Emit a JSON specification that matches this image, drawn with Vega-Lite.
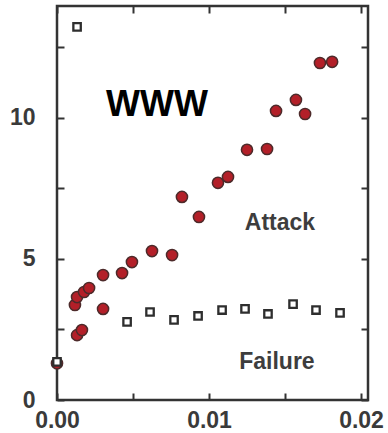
{
  "$schema": "https://vega.github.io/schema/vega-lite/v6.json",
  "width": 311,
  "height": 394,
  "autosize": {"type": "none"},
  "padding": {"left": 57, "top": 6, "right": 20, "bottom": 33},
  "background": "white",
  "config": {
    "view": {"stroke": "#333333", "strokeWidth": 2.5},
    "axis": {
      "domain": false,
      "grid": false,
      "title": null,
      "tickColor": "#333333",
      "tickWidth": 2,
      "tickSize": -7,
      "labelFont": "Liberation Sans",
      "labelFontWeight": "bold",
      "labelFontSize": 23,
      "labelColor": "#3a3a3a"
    }
  },
  "datasets": {
    "attack": [
      {"f": 0.0, "d": 1.3},
      {"f": 0.00132, "d": 2.3},
      {"f": 0.00164, "d": 2.48},
      {"f": 0.00118, "d": 3.37},
      {"f": 0.00132, "d": 3.65},
      {"f": 0.00178, "d": 3.83},
      {"f": 0.00211, "d": 3.97},
      {"f": 0.00303, "d": 3.23},
      {"f": 0.00303, "d": 4.43},
      {"f": 0.00428, "d": 4.5},
      {"f": 0.00493, "d": 4.89},
      {"f": 0.00625, "d": 5.28},
      {"f": 0.00757, "d": 5.14},
      {"f": 0.00822, "d": 7.2},
      {"f": 0.00934, "d": 6.49},
      {"f": 0.01059, "d": 7.7},
      {"f": 0.01125, "d": 7.91},
      {"f": 0.0125, "d": 8.87},
      {"f": 0.01382, "d": 8.9},
      {"f": 0.01441, "d": 10.25},
      {"f": 0.01572, "d": 10.64},
      {"f": 0.01632, "d": 10.14},
      {"f": 0.0173, "d": 11.95},
      {"f": 0.0181, "d": 11.99}
    ],
    "failure": [
      {"f": 0.0, "d": 1.35},
      {"f": 0.00132, "d": 13.23},
      {"f": 0.00461, "d": 2.77},
      {"f": 0.00612, "d": 3.12},
      {"f": 0.0077, "d": 2.84},
      {"f": 0.00928, "d": 2.98},
      {"f": 0.01086, "d": 3.19},
      {"f": 0.01237, "d": 3.23},
      {"f": 0.01388, "d": 3.05},
      {"f": 0.01553, "d": 3.4},
      {"f": 0.01704, "d": 3.19},
      {"f": 0.01862, "d": 3.09}
    ],
    "network": [{"f": 0.00658, "d": 10.46, "text": "WWW"}],
    "curves": [
      {"f": 0.01467, "d": 6.28, "text": "Attack"},
      {"f": 0.01447, "d": 1.35, "text": "Failure"}
    ]
  },
  "layer": [
    {
      "data": {"name": "attack"},
      "mark": {"type": "point", "shape": "circle", "filled": true, "fill": "#b31f28", "stroke": "#4d2a2a", "strokeWidth": 1.5, "size": 125, "opacity": 1},
      "encoding": {
        "x": {
          "field": "f", "type": "quantitative",
          "scale": {"domain": [0, 0.02046], "nice": false, "zero": false},
          "axis": {
            "orient": "bottom",
            "values": [0, 0.005, 0.01, 0.015, 0.02],
            "labelExpr": "abs(datum.value * 100 - round(datum.value * 100)) < 0.001 ? format(datum.value, '.2f') : ''",
            "labelPadding": 16,
            "labelFlush": false,
            "labelOverlap": false
          }
        },
        "y": {
          "field": "d", "type": "quantitative",
          "scale": {"domain": [0, 13.97], "nice": false, "zero": false},
          "axis": {
            "orient": "left",
            "values": [0, 2.5, 5, 7.5, 10, 12.5],
            "labelExpr": "datum.value % 5 == 0 ? format(datum.value, 'd') : ''",
            "labelPadding": 29,
            "labelFlush": false,
            "labelOverlap": false
          }
        }
      }
    },
    {
      "data": {"name": "failure"},
      "mark": {"type": "point", "shape": "square", "filled": false, "fill": "white", "stroke": "#2e2e2e", "strokeWidth": 2.3, "size": 55, "opacity": 1},
      "encoding": {
        "x": {
          "field": "f", "type": "quantitative",
          "scale": {"domain": [0, 0.02046], "nice": false, "zero": false},
          "axis": {"orient": "top", "values": [0, 0.005, 0.01, 0.015, 0.02], "labels": false}
        },
        "y": {
          "field": "d", "type": "quantitative",
          "scale": {"domain": [0, 13.97], "nice": false, "zero": false},
          "axis": {"orient": "right", "values": [0, 2.5, 5, 7.5, 10, 12.5], "labels": false}
        }
      }
    },
    {
      "data": {"name": "network"},
      "mark": {"type": "text", "font": "Liberation Sans", "fontWeight": "bold", "fontSize": 36, "color": "#000000", "baseline": "middle", "align": "center"},
      "encoding": {
        "x": {"field": "f", "type": "quantitative", "axis": null},
        "y": {"field": "d", "type": "quantitative", "axis": null},
        "text": {"field": "text"}
      }
    },
    {
      "data": {"name": "curves"},
      "mark": {"type": "text", "font": "Liberation Sans", "fontWeight": "bold", "fontSize": 23, "color": "#3d3d3d", "baseline": "middle", "align": "center"},
      "encoding": {
        "x": {"field": "f", "type": "quantitative", "axis": null},
        "y": {"field": "d", "type": "quantitative", "axis": null},
        "text": {"field": "text"}
      }
    }
  ],
  "resolve": {"axis": {"x": "independent", "y": "independent"}}
}
